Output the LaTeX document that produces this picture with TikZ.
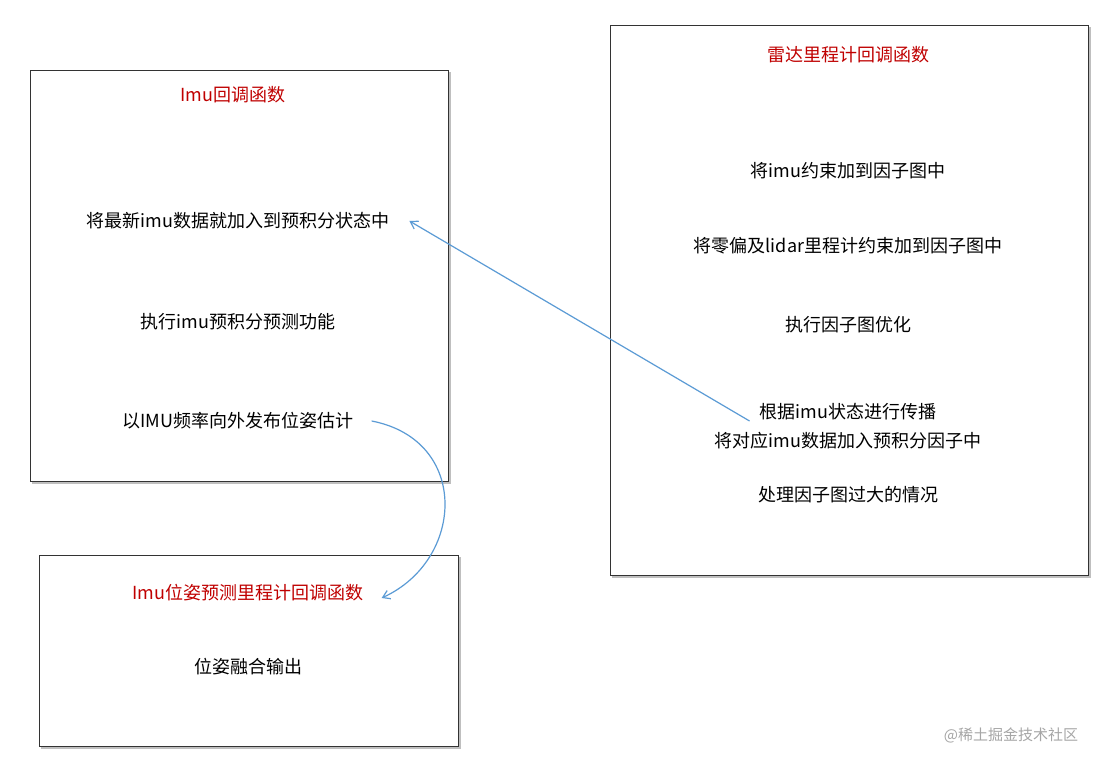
\documentclass[tikz,border=0pt]{standalone}
\usepackage{fontspec}
\setmainfont{Noto Sans CJK SC}
\usetikzlibrary{arrows.meta}
\definecolor{tred}{RGB}{192,0,0}
\definecolor{ablue}{RGB}{91,155,213}
\begin{document}
\begin{tikzpicture}[x=1pt,y=-1pt,
  box/.style={draw=black!80,line width=0.8pt,fill=white},
  shadowbox/.style={draw=black!25,line width=2pt},
  txt/.style={font=\fontsize{18}{22}\selectfont,inner sep=0pt,anchor=center},
  ttl/.style={txt,text=tred},
  conn/.style={draw=ablue,line width=1.2pt,-{Straight Barb[length=7pt,width=9pt]}}]
\useasboundingbox[fill=white] (0,0) rectangle (1113,767);
% shadows
\draw[shadowbox] (32,483) -- (450,483) -- (450,72);
\draw[shadowbox] (612,577) -- (1090,577) -- (1090,27);
\draw[shadowbox] (41,748) -- (460,748) -- (460,557);
\draw[box] (30,70) rectangle (448,481);
\draw[box] (610,25) rectangle (1088,575);
\draw[box] (39,555) rectangle (458,746);
% left box
\node[ttl] (t1) at (233,95) {Imu回调函数};
\node[txt] (a1) at (238,221) {将最新imu数据就加入到预积分状态中};
\node[txt] (a2) at (238,322) {执行imu预积分预测功能};
\node[txt] (a3) at (238,421) {以IMU频率向外发布位姿估计};
% right box
\node[ttl] (t2) at (848,55) {雷达里程计回调函数};
\node[txt] (b1) at (848,171) {将imu约束加到因子图中};
\node[txt] (b2) at (848,246) {将零偏及lidar里程计约束加到因子图中};
\node[txt] (b3) at (848,325) {执行因子图优化};
\node[txt] (b4) at (848,412) {根据imu状态进行传播};
\node[txt] (b5) at (848,441) {将对应imu数据加入预积分因子中};
\node[txt] (b6) at (848,495) {处理因子图过大的情况};
% bottom box
\node[ttl] (t3) at (248,593) {Imu位姿预测里程计回调函数};
\node[txt] (c1) at (248,667) {位姿融合输出};
% watermark
\node[txt,text=black!35,font=\fontsize{15}{18}\selectfont] (w) at (1011,735) {@稀土掘金技术社区};
% connectors
\coordinate (s1) at ([xshift=-10pt,yshift=-9pt]b4.west);
\coordinate (e1) at ([xshift=20pt]a1.east);
\draw[conn] (s1) -- (e1);
\coordinate (s2) at ([xshift=18pt]a3.east);
\coordinate (e2) at ([xshift=18pt,yshift=-5pt]t3.east);
\draw[conn] (s2) .. controls (470,440) and (465,560) .. (e2);
\end{tikzpicture}
\end{document}
